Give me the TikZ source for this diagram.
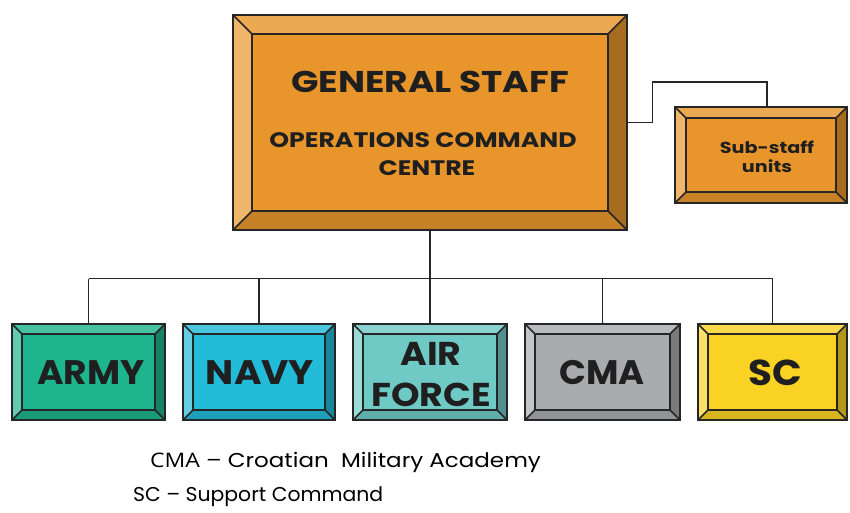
\documentclass[tikz,border=0pt]{standalone}
\usepackage{fontspec}
\setmainfont{Poppins}
\newfontfamily\plainsans{Open Sans}
\usetikzlibrary{fit,calc}
\definecolor{gsorange}{HTML}{E8962C}
\definecolor{armyc}{HTML}{1DB48E}
\definecolor{navyc}{HTML}{22BBD8}
\definecolor{afc}{HTML}{6FCAC6}
\definecolor{cmac}{HTML}{A9ABAE}
\definecolor{scc}{HTML}{F9D224}
\newcommand\sx[2]{\scalebox{#1}[1]{#2}}
\newcommand\bevbox[7]{%
  \fill[#7!82!white] (#2,#3) -- (#4,#3) -- (#4-#6,#3+#6) -- (#2+#6,#3+#6) -- cycle;
  \fill[#7!70!white] (#2,#3) -- (#2+#6,#3+#6) -- (#2+#6,#5-#6) -- (#2,#5) -- cycle;
  \fill[#7!72!black] (#4,#3) -- (#4,#5) -- (#4-#6,#5-#6) -- (#4-#6,#3+#6) -- cycle;
  \fill[#7!86!black] (#2,#5) -- (#4,#5) -- (#4-#6,#5-#6) -- (#2+#6,#5-#6) -- cycle;
  \fill[#7] (#2+#6,#3+#6) rectangle (#4-#6,#5-#6);
  \draw[bevline] (#2,#3) -- (#2+#6,#3+#6) (#4,#3) -- (#4-#6,#3+#6)
     (#2,#5) -- (#2+#6,#5-#6) (#4,#5) -- (#4-#6,#5-#6);
  \draw[bevline] (#2+#6,#3+#6) rectangle (#4-#6,#5-#6);
  \coordinate (#1-a) at (#2,#3);
  \coordinate (#1-c) at (#4,#5);
  \node[fit=(#1-a)(#1-c), inner sep=0pt, draw, bevline] (#1) {};
}
\begin{document}
\begin{tikzpicture}[x=1pt,y=-1pt,
  bevline/.style={line width=1.6pt, black!85},
  conn/.style={line width=1.3pt, black!85},
  lbl/.style={text=black!88, align=center, inner sep=0pt}]
\useasboundingbox (0,0) rectangle (850,512);
% boxes
\bevbox{gs}{233}{15}{627}{230}{19}{gsorange}
\bevbox{sub}{675}{107}{847}{203}{11}{gsorange}
\bevbox{army}{12}{324}{165}{420}{10}{armyc}
\bevbox{navy}{183}{324}{335}{420}{10}{navyc}
\bevbox{af}{353}{324}{507}{420}{10}{afc}
\bevbox{cma}{525}{324}{680}{420}{10}{cmac}
\bevbox{sc}{698}{324}{847}{420}{10}{scc}
% texts
\node[lbl, font=\fontsize{30}{30}\selectfont\bfseries] (t1) at (430,82) {\sx{1.2}{GENERAL STAFF}};
\node[lbl, font=\fontsize{21}{22}\selectfont\bfseries] (t2) at (423,140) {\sx{1.2}{OPERATIONS COMMAND}};
\node[lbl, font=\fontsize{21}{22}\selectfont\bfseries] (t3) at (427,168) {\sx{1.2}{CENTRE}};
\node[lbl, font=\fontsize{16}{19}\selectfont\bfseries] (t4) at (767,157) {\sx{1.2}{Sub-staff}\\\sx{1.2}{units}};
\node[lbl, font=\fontsize{34}{34}\selectfont\bfseries] (ta) at (91,373) {\sx{1.06}{ARMY}};
\node[lbl, font=\fontsize{34}{34}\selectfont\bfseries] (tn) at (260,373) {\sx{1.1}{NAVY}};
\node[lbl, font=\fontsize{33}{41}\selectfont\bfseries] (tf) at (431,375) {\sx{1.1}{AIR}\\\sx{1.1}{FORCE}};
\node[lbl, font=\fontsize{34}{34}\selectfont\bfseries] (tc) at (602,373) {\sx{1.04}{CMA}};
\node[lbl, font=\fontsize{36}{36}\selectfont\bfseries] (ts) at (775,373) {\sx{1.08}{SC}};
% legend
\node[anchor=west, inner sep=0pt, font=\fontsize{20}{22}\selectfont] (l1) at (150,462)
  {\sx{1.15}{{\plainsans CMA} – Croatian\ \ Military Academy}};
\node[anchor=west, inner sep=0pt, font=\fontsize{20}{22}\selectfont] (l2) at (133,497)
  {\sx{1.02}{SC – Support Command}};
% connectors
\draw[conn] (gs.south) -- ++(0,48) coordinate (bus);
\draw[conn] (bus -| army.north) -- (bus -| sc.north);
\foreach \b in {army,navy,af,cma,sc}
  \draw[conn] (bus -| \b.north) -- (\b.north);
\draw[conn] (gs.east) -- ++(25,0) coordinate (k1) -- (k1 |- 0,82) coordinate (k2)
  -| ([xshift=6pt]sub.north);
\end{tikzpicture}
\end{document}
